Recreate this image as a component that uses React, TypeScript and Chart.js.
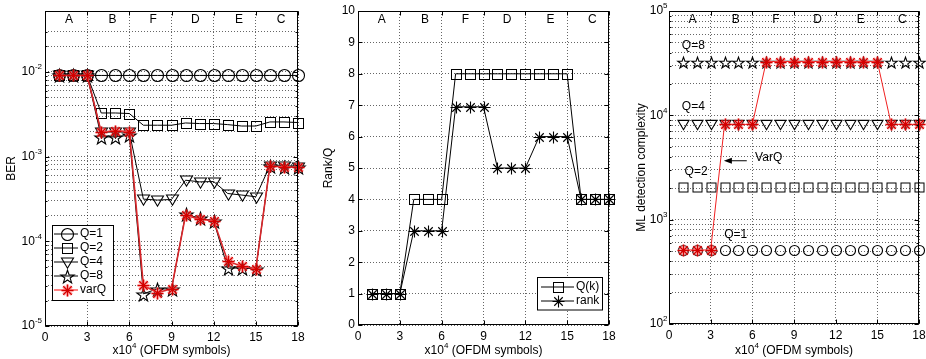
import React, { useEffect, useRef } from "react";
import { Chart, registerables } from "chart.js";

Chart.register(...registerables);

const FONT = "'Liberation Sans', Arial, Helvetica, sans-serif";
const H = 359;
const GRID = "rgba(0,0,0,0.6)";

// ---------------- data ----------------
const symbols = [1, 2, 3, 4, 5, 6, 7, 8, 9, 10, 11, 12, 13, 14, 15, 16, 17, 18];
const xTicks = [0, 3, 6, 9, 12, 15, 18];
const regionNames = ["A", "B", "F", "D", "E", "C"];
const regionCenters = [1.7, 4.8, 7.7, 10.7, 13.8, 16.8];

const berDecades = [1e-5, 1e-4, 1e-3, 1e-2];
const berExponents = ["-5", "-4", "-3", "-2"];
const berQ1 = [9.1e-3, 9.1e-3, 9.1e-3, 9.1e-3, 9.1e-3, 9.1e-3, 9.1e-3, 9.1e-3, 9.1e-3, 9.1e-3, 9.1e-3, 9.1e-3, 9.1e-3, 9.1e-3, 9.1e-3, 9.1e-3, 9.1e-3, 9.1e-3];
const berQ2 = [9.1e-3, 9.1e-3, 9.1e-3, 3.28e-3, 3.28e-3, 3.23e-3, 2.35e-3, 2.35e-3, 2.35e-3, 2.5e-3, 2.46e-3, 2.46e-3, 2.39e-3, 2.3e-3, 2.3e-3, 2.57e-3, 2.57e-3, 2.53e-3];
const berQ4 = [9.1e-3, 9.1e-3, 9.1e-3, 1.95e-3, 1.95e-3, 1.95e-3, 3.15e-4, 3.07e-4, 3.12e-4, 5.27e-4, 5.04e-4, 5.08e-4, 3.67e-4, 3.52e-4, 3.36e-4, 7.8e-4, 7.7e-4, 7.6e-4];
const berQ8 = [9.1e-3, 9.1e-3, 9.1e-3, 1.71e-3, 1.71e-3, 1.79e-3, 2.4e-5, 2.75e-5, 2.73e-5, 2.1e-4, 1.87e-4, 1.75e-4, 4.81e-5, 4.85e-5, 4.73e-5, 7.7e-4, 7.6e-4, 7.5e-4];
const berVarQ = [9.1e-3, 9.1e-3, 9.1e-3, 1.95e-3, 2.02e-3, 1.98e-3, 3.01e-5, 2.47e-5, 2.75e-5, 2.04e-4, 1.83e-4, 1.75e-4, 5.82e-5, 5.08e-5, 4.73e-5, 7.7e-4, 7.6e-4, 7.5e-4];

const rankQk = [1, 1, 1, 4, 4, 4, 8, 8, 8, 8, 8, 8, 8, 8, 8, 4, 4, 4];
const rankValues = [1, 1, 1, 3, 3, 3, 6.95, 6.95, 6.95, 5, 5, 5, 6, 6, 6, 4, 4, 4];

const cxDecades = [1e2, 1e3, 1e4, 1e5];
const cxExponents = ["2", "3", "4", "5"];
const cxQ1 = [512, 512, 512, 512, 512, 512, 512, 512, 512, 512, 512, 512, 512, 512, 512, 512, 512, 512];
const cxQ2 = [2048, 2048, 2048, 2048, 2048, 2048, 2048, 2048, 2048, 2048, 2048, 2048, 2048, 2048, 2048, 2048, 2048, 2048];
const cxQ4 = [8192, 8192, 8192, 8192, 8192, 8192, 8192, 8192, 8192, 8192, 8192, 8192, 8192, 8192, 8192, 8192, 8192, 8192];
const cxQ8 = [32768, 32768, 32768, 32768, 32768, 32768, 32768, 32768, 32768, 32768, 32768, 32768, 32768, 32768, 32768, 32768, 32768, 32768];
const cxVarQ = [512, 512, 512, 8192, 8192, 8192, 32768, 32768, 32768, 32768, 32768, 32768, 32768, 32768, 32768, 8192, 8192, 8192];

// log grid tick positions (1..9 per decade)
const minorMults = [1, 2, 3, 4, 5, 6, 7, 8, 9];
const berGrid = berDecades
  .slice(0, 3)
  .flatMap((d) => minorMults.map((m) => +(d * m).toPrecision(3)))
  .concat([1e-2, 2e-2, 3e-2]);
const cxGrid = cxDecades
  .slice(0, 3)
  .flatMap((d) => minorMults.map((m) => d * m))
  .concat([1e5]);

// ---------------- markers ----------------
function mk(size: number, draw: (c: CanvasRenderingContext2D) => void) {
  const cv = document.createElement("canvas");
  cv.width = size;
  cv.height = size;
  const c = cv.getContext("2d")!;
  c.translate(size / 2 + 0.5, size / 2 + 0.5);
  draw(c);
  return cv;
}
function circleMarker(r: number) {
  return mk(2 * Math.ceil(r + 2), (c) => {
    c.beginPath();
    c.arc(0, 0, r, 0, Math.PI * 2);
    c.strokeStyle = "#000";
    c.lineWidth = 1.1;
    c.stroke();
  });
}
function squareMarker(h: number) {
  return mk(2 * Math.ceil(h + 2), (c) => {
    c.strokeStyle = "#000";
    c.lineWidth = 1;
    c.strokeRect(-h, -h, 2 * h, 2 * h);
  });
}
function triMarker(h: number) {
  return mk(2 * Math.ceil(h + 2), (c) => {
    c.beginPath();
    c.moveTo(-h, -h * 0.75);
    c.lineTo(h, -h * 0.75);
    c.lineTo(0, h * 0.95);
    c.closePath();
    c.strokeStyle = "#000";
    c.lineWidth = 1.1;
    c.stroke();
  });
}
function pentaMarker(R: number) {
  return mk(2 * Math.ceil(R + 2), (c) => {
    c.beginPath();
    for (let k = 0; k < 10; k++) {
      const rr = k % 2 === 0 ? R : R * 0.4;
      const ang = -Math.PI / 2 + (k * Math.PI) / 5;
      const px = rr * Math.cos(ang);
      const py = rr * Math.sin(ang) + R * 0.1;
      if (k === 0) c.moveTo(px, py);
      else c.lineTo(px, py);
    }
    c.closePath();
    c.strokeStyle = "#000";
    c.lineWidth = 1.1;
    c.stroke();
  });
}
function asteriskMarker(r: number, red: boolean) {
  return mk(2 * Math.ceil(r + 3), (c) => {
    const layers: [number, string][] = red
      ? [
          [3.2, "rgba(255,80,80,0.5)"],
          [1.2, "#d40000"],
        ]
      : [[1.1, "#000"]];
    for (const [lw, col] of layers) {
      c.beginPath();
      for (let k = 0; k < 4; k++) {
        const ang = (k * Math.PI) / 4;
        c.moveTo(-r * Math.cos(ang), -r * Math.sin(ang));
        c.lineTo(r * Math.cos(ang), r * Math.sin(ang));
      }
      c.strokeStyle = col;
      c.lineWidth = lw;
      c.stroke();
    }
  });
}

// ---------------- helpers ----------------
function drawPow(ctx: CanvasRenderingContext2D, base: string, exp: string, x: number, y: number, align: "right" | "center" | "left", rest = "") {
  ctx.font = `12px ${FONT}`;
  const wb = ctx.measureText(base).width;
  const wr = rest ? ctx.measureText(rest).width : 0;
  ctx.font = `8px ${FONT}`;
  const we = ctx.measureText(exp).width;
  const total = wb + we + wr;
  let x0 = x;
  if (align === "right") x0 = x - total;
  if (align === "center") x0 = x - total / 2;
  ctx.textAlign = "left";
  ctx.textBaseline = "middle";
  ctx.fillStyle = "#000";
  ctx.font = `12px ${FONT}`;
  ctx.fillText(base, x0, y);
  if (rest) ctx.fillText(rest, x0 + wb + we, y);
  ctx.font = `8px ${FONT}`;
  ctx.fillText(exp, x0 + wb, y - 5);
}

type LegendItem = { label: string; img: HTMLCanvasElement; color: string; lw: number };
function drawLegend(ctx: CanvasRenderingContext2D, bx: number, by: number, bw: number, bh: number, items: LegendItem[], row0: number, step: number, lx0: number, lx1: number, mx: number, tx: number) {
  ctx.save();
  ctx.imageSmoothingEnabled = false;
  ctx.fillStyle = "#fff";
  ctx.fillRect(bx, by, bw, bh);
  ctx.strokeStyle = "#000";
  ctx.lineWidth = 1;
  ctx.strokeRect(bx, by, bw, bh);
  items.forEach((it, i) => {
    const y = row0 + i * step;
    ctx.beginPath();
    ctx.moveTo(lx0, y);
    ctx.lineTo(lx1, y);
    ctx.strokeStyle = it.color;
    ctx.lineWidth = it.lw;
    ctx.stroke();
    ctx.drawImage(it.img, Math.round(mx - it.img.width / 2), Math.round(y - it.img.height / 2));
    ctx.fillStyle = "#000";
    ctx.font = `12px ${FONT}`;
    ctx.textAlign = "left";
    ctx.textBaseline = "middle";
    ctx.fillText(it.label, tx, y);
  });
  ctx.restore();
}

type Deco = {
  yTitle: string;
  yTitleX: number;
  logLabels?: { values: number[]; exps: string[]; gap: number };
  extra?: (chart: any) => void;
};

function decoPlugin(d: Deco) {
  return {
    id: "deco",
    beforeDatasetsDraw(chart: any) {
      chart.ctx.imageSmoothingEnabled = false;
    },
    afterDatasetsDraw(chart: any) {
      chart.ctx.imageSmoothingEnabled = true;
    },
    afterDraw(chart: any) {
      const ctx: CanvasRenderingContext2D = chart.ctx;
      const a = chart.chartArea;
      const xs = chart.scales.x;
      const ys = chart.scales.y;
      ctx.save();
      const L = Math.round(a.left) + 0.5;
      const T = Math.round(a.top) + 0.5;
      const R = Math.round(a.right) - 0.5;
      const B = Math.round(a.bottom) - 0.5;
      // inner tick marks
      ctx.beginPath();
      for (const v of xTicks) {
        const px = Math.round(xs.getPixelForValue(v)) + 0.5;
        ctx.moveTo(px, B);
        ctx.lineTo(px, B - 4);
        ctx.moveTo(px, T);
        ctx.lineTo(px, T + 4);
      }
      for (const t of ys.ticks) {
        const py = Math.round(ys.getPixelForValue(t.value)) + 0.5;
        const major = d.logLabels ? d.logLabels.values.includes(t.value) : true;
        const len = major ? 4 : 2;
        ctx.moveTo(L, py);
        ctx.lineTo(L + len, py);
        ctx.moveTo(R, py);
        ctx.lineTo(R - len, py);
      }
      ctx.strokeStyle = "#000";
      ctx.lineWidth = 1;
      ctx.stroke();
      // frame
      ctx.strokeRect(L, T, R - L, B - T);
      // region labels
      ctx.fillStyle = "#000";
      ctx.font = `12px ${FONT}`;
      ctx.textAlign = "center";
      ctx.textBaseline = "middle";
      regionNames.forEach((n, i) => {
        ctx.fillText(n, xs.getPixelForValue(regionCenters[i]), a.top + 9);
      });
      // log tick labels
      if (d.logLabels) {
        d.logLabels.values.forEach((v, i) => {
          drawPow(ctx, "10", d.logLabels!.exps[i], a.left - d.logLabels!.gap, ys.getPixelForValue(v), "right");
        });
      }
      // x title
      drawPow(ctx, "x10", "4", (a.left + a.right) / 2, 351, "center", " (OFDM symbols)");
      // y title
      ctx.save();
      ctx.translate(d.yTitleX, (a.top + a.bottom) / 2);
      ctx.rotate(-Math.PI / 2);
      ctx.font = `12px ${FONT}`;
      ctx.textAlign = "center";
      ctx.textBaseline = "middle";
      ctx.fillStyle = "#000";
      ctx.fillText(d.yTitle, 0, 0);
      ctx.restore();
      if (d.extra) d.extra(chart);
      ctx.restore();
    },
  };
}

function xScaleOpts(height: number) {
  return {
    type: "linear",
    min: 0,
    max: 18,
    ticks: { stepSize: 3, color: "#000", font: { family: FONT, size: 12 }, padding: 4, maxRotation: 0, autoSkip: false },
    grid: { color: GRID, lineWidth: 1, drawTicks: false },
    border: { display: false, dash: [1, 2] },
    afterFit: (s: any) => {
      s.height = height;
      s.paddingLeft = 0;
      s.paddingRight = 0;
    },
  };
}

function logYOpts(min: number, max: number, gridVals: number[], width: number) {
  return {
    type: "logarithmic",
    min,
    max,
    afterBuildTicks: (s: any) => {
      s.ticks = gridVals.map((v) => ({ value: v }));
    },
    ticks: { display: false },
    grid: { color: GRID, lineWidth: 1, drawTicks: false },
    border: { display: false, dash: [1, 2] },
    afterFit: (s: any) => {
      s.width = width;
      s.paddingTop = 0;
      s.paddingBottom = 0;
    },
  };
}

function series(label: string, arr: number[], img: HTMLCanvasElement, color: string, lw: number, order: number, showLine = true) {
  return {
    label,
    data: symbols.map((x, i) => ({ x, y: arr[i] })),
    borderColor: color,
    backgroundColor: color,
    borderWidth: lw,
    pointStyle: img,
    pointRadius: 6,
    pointHoverRadius: 6,
    showLine,
    clip: false,
    order,
    tension: 0,
    fill: false,
  };
}

const baseOptions = {
  animation: false,
  responsive: false,
  devicePixelRatio: 1,
  events: [],
};

// ---------------- panels ----------------
function berConfig(): any {
  const mC = circleMarker(6);
  const mS = squareMarker(5);
  const mT = triMarker(6);
  const mP = pentaMarker(7);
  const mA = asteriskMarker(6, true);
  const legendItems: LegendItem[] = [
    { label: "Q=1", img: mC, color: "#000", lw: 1 },
    { label: "Q=2", img: mS, color: "#000", lw: 1 },
    { label: "Q=4", img: mT, color: "#000", lw: 1 },
    { label: "Q=8", img: mP, color: "#000", lw: 1 },
    { label: "varQ", img: mA, color: "rgba(255,90,90,0.75)", lw: 2 },
  ];
  return {
    type: "line",
    data: {
      datasets: [
        series("varQ", berVarQ, mA, "#d9262a", 1.6, 0),
        series("Q=8", berQ8, mP, "#000", 1, 1),
        series("Q=4", berQ4, mT, "#000", 1, 2),
        series("Q=2", berQ2, mS, "#000", 1, 3),
        series("Q=1", berQ1, mC, "#000", 1, 4),
      ],
    },
    options: {
      ...baseOptions,
      layout: { padding: { left: 0, top: 11, right: 12, bottom: 0 } },
      scales: { x: xScaleOpts(33), y: logYOpts(1e-5, 0.0525, berGrid, 45) },
      plugins: { legend: { display: false }, tooltip: { enabled: false } },
    },
    plugins: [
      decoPlugin({
        yTitle: "BER",
        yTitleX: 11.5,
        logLabels: { values: berDecades, exps: berExponents, gap: 3 },
        extra: (chart: any) => {
          drawLegend(chart.ctx, 52.5, 225.5, 61, 75, legendItems, 234, 14, 54, 78, 67, 80);
        },
      }),
    ],
  };
}

function rankConfig(): any {
  const mS = squareMarker(5);
  const mA = asteriskMarker(6, false);
  const legendItems: LegendItem[] = [
    { label: "Q(k)", img: mS, color: "#000", lw: 1 },
    { label: "rank", img: mA, color: "#000", lw: 1 },
  ];
  return {
    type: "line",
    data: {
      datasets: [series("Q(k)", rankQk, mS, "#000", 1, 0), series("rank", rankValues, mA, "#000", 1, 1)],
    },
    options: {
      ...baseOptions,
      layout: { padding: { left: 0, top: 11, right: 5, bottom: 0 } },
      scales: {
        x: xScaleOpts(34),
        y: {
          type: "linear",
          min: 0,
          max: 10,
          ticks: { stepSize: 1, color: "#000", font: { family: FONT, size: 12 }, padding: 3 },
          grid: { color: GRID, lineWidth: 1, drawTicks: false },
          border: { display: false, dash: [1, 2] },
          afterFit: (s: any) => {
            s.width = 48;
            s.paddingTop = 0;
            s.paddingBottom = 0;
          },
        },
      },
      plugins: { legend: { display: false }, tooltip: { enabled: false } },
    },
    plugins: [
      decoPlugin({
        yTitle: "Rank/Q",
        yTitleX: 19,
        extra: (chart: any) => {
          drawLegend(chart.ctx, 227.5, 277.5, 65, 32.5, legendItems, 287, 14, 231, 264, 247.5, 266);
        },
      }),
    ],
  };
}

function cxConfig(): any {
  const mC = circleMarker(5);
  const mS = squareMarker(4.5);
  const mT = triMarker(5.5);
  const mP = pentaMarker(6);
  const mA = asteriskMarker(6, true);
  return {
    type: "line",
    data: {
      datasets: [
        series("VarQ", cxVarQ, mA, "#f02020", 1, 0),
        series("Q=8", cxQ8, mP, "#000", 1, 1, false),
        series("Q=4", cxQ4, mT, "#000", 1, 2, false),
        series("Q=2", cxQ2, mS, "#000", 1, 3, false),
        series("Q=1", cxQ1, mC, "#000", 1, 4, false),
      ],
    },
    options: {
      ...baseOptions,
      layout: { padding: { left: 0, top: 11, right: 3, bottom: 0 } },
      scales: { x: xScaleOpts(35), y: logYOpts(1e2, 1e5, cxGrid, 53) },
      plugins: { legend: { display: false }, tooltip: { enabled: false } },
    },
    plugins: [
      decoPlugin({
        yTitle: "ML detection complexity",
        yTitleX: 25.5,
        logLabels: { values: cxDecades, exps: cxExponents, gap: 1.5 },
        extra: (chart: any) => {
          const ctx: CanvasRenderingContext2D = chart.ctx;
          const xs = chart.scales.x;
          const ys = chart.scales.y;
          ctx.fillStyle = "#000";
          ctx.font = `12px ${FONT}`;
          ctx.textBaseline = "middle";
          ctx.textAlign = "center";
          ctx.fillText("Q=8", xs.getPixelForValue(1.75), ys.getPixelForValue(47000));
          ctx.fillText("Q=4", xs.getPixelForValue(1.75), ys.getPixelForValue(12000));
          ctx.fillText("Q=2", xs.getPixelForValue(1.95), ys.getPixelForValue(2880));
          ctx.fillText("Q=1", xs.getPixelForValue(4.8), ys.getPixelForValue(710));
          ctx.textAlign = "left";
          ctx.fillText("VarQ", xs.getPixelForValue(6.2), ys.getPixelForValue(3930));
          const ay = ys.getPixelForValue(3670);
          const ax0 = xs.getPixelForValue(5.6);
          const ax1 = xs.getPixelForValue(3.95);
          ctx.beginPath();
          ctx.moveTo(ax0, ay);
          ctx.lineTo(ax1 + 4, ay);
          ctx.strokeStyle = "#000";
          ctx.lineWidth = 1;
          ctx.stroke();
          ctx.beginPath();
          ctx.moveTo(ax1, ay);
          ctx.lineTo(ax1 + 8, ay - 3);
          ctx.lineTo(ax1 + 8, ay + 3);
          ctx.closePath();
          ctx.fill();
        },
      }),
    ],
  };
}

function Panel({ left, width, build }: { left: number; width: number; build: () => any }) {
  const ref = useRef<HTMLCanvasElement>(null);
  useEffect(() => {
    const chart = new Chart(ref.current!, build());
    return () => chart.destroy();
  }, []);
  return <canvas ref={ref} width={width} height={H} style={{ position: "absolute", left, top: 0, width, height: H }} />;
}

export default function App() {
  return (
    <div style={{ position: "fixed", left: 0, top: 0, width: 926, height: H, background: "#fff", overflow: "hidden" }}>
      <Panel left={0} width={310} build={berConfig} />
      <Panel left={310} width={306} build={rankConfig} />
      <Panel left={616} width={310} build={cxConfig} />
    </div>
  );
}
